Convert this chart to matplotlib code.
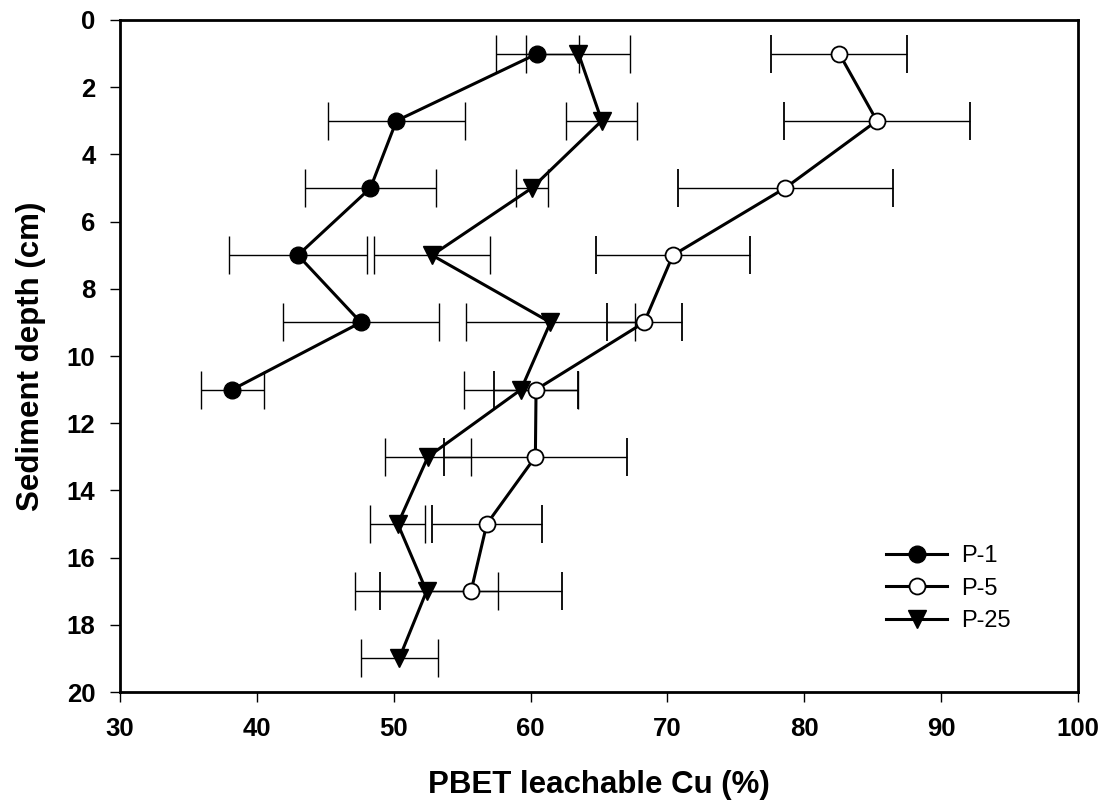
import numpy as np
import matplotlib
matplotlib.use('Agg')
import matplotlib.pyplot as plt

plt.rcParams['font.family'] = ['Liberation Sans', 'DejaVu Sans']

# depth (cm) and PBET leachable Cu (%) with error bars
depth_p1 = [1, 3, 5, 7, 9, 11]
cu_p1 = [60.5, 50.2, 48.3, 43.0, 47.6, 38.2]
err_p1 = [3.05, 5.0, 4.8, 5.05, 5.7, 2.3]

depth_p5 = [1, 3, 5, 7, 9, 11, 13, 15, 17]
cu_p5 = [82.55, 85.3, 78.6, 70.4, 68.3, 60.4, 60.35, 56.8, 55.65]
err_p5 = [4.95, 6.8, 7.85, 5.65, 2.75, 3.05, 6.7, 4.0, 6.65]

depth_p25 = [1, 3, 5, 7, 9, 11, 13, 15, 17, 19]
cu_p25 = [63.5, 65.2, 60.1, 52.8, 61.45, 59.3, 52.5, 50.3, 52.4, 50.4]
err_p25 = [3.8, 2.6, 1.15, 4.25, 6.2, 4.15, 3.15, 2.0, 5.25, 2.8]

x_ticks = [30, 40, 50, 60, 70, 80, 90, 100]
y_ticks = [0, 2, 4, 6, 8, 10, 12, 14, 16, 18, 20]

fig = plt.figure(figsize=(11.13, 8.09), dpi=100)
ax = fig.add_axes([0.1078, 0.1446, 0.8608, 0.8307])

common = dict(color='black', ecolor='black', elinewidth=1.0, capsize=14,
              capthick=1.0, linewidth=2.2)

c1 = ax.errorbar(cu_p1, depth_p1, xerr=err_p1, marker='o', markersize=12,
                 markerfacecolor='black', markeredgecolor='black', **common)
c5 = ax.errorbar(cu_p5, depth_p5, xerr=err_p5, marker='o', markersize=11.5,
                 markerfacecolor='white', markeredgecolor='black', markeredgewidth=1.3,
                 **common)
c25 = ax.errorbar(cu_p25, depth_p25, xerr=err_p25, marker='v', markersize=12.5,
                  markerfacecolor='black', markeredgecolor='black', **common)

ax.set_xlim(30, 100)
ax.set_ylim(20, 0)
ax.set_xticks(x_ticks)
ax.set_yticks(y_ticks)

for s in ax.spines.values():
    s.set_linewidth(2.0)
ax.tick_params(direction='out', length=7.2, width=1.0, pad=10.5, labelsize=18.5)
for lab in ax.get_xticklabels() + ax.get_yticklabels():
    lab.set_fontweight('bold')

ax.set_xlabel('PBET leachable Cu (%)', fontsize=22.5, fontweight='bold', labelpad=21)
ax.set_ylabel('Sediment depth (cm)', fontsize=22.5, fontweight='bold', labelpad=15)

# legend shows only line + marker (no error bars)
handles = [c1.lines[0], c5.lines[0], c25.lines[0]]
leg = ax.legend(handles, ['P-1', 'P-5', 'P-25'], loc='upper left',
                bbox_to_anchor=(886 / 1113, 1 - 545 / 809),
                bbox_transform=fig.transFigure, frameon=False, fontsize=17,
                handlelength=2.6, handletextpad=0.6, labelspacing=0.45,
                borderpad=0, borderaxespad=0)

fig.savefig('out.png', dpi=100)
